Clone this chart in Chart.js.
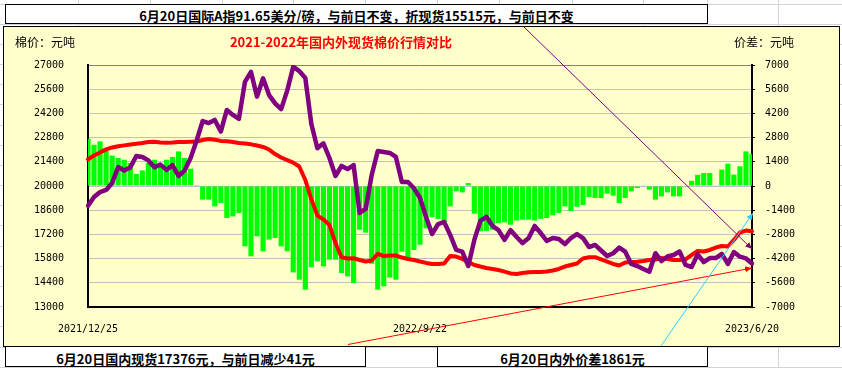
<!DOCTYPE html>
<html>
<head>
<meta charset="utf-8">
<script src="https://cdn.jsdelivr.net/npm/chart.js@4.4.0/dist/chart.umd.min.js"></script>
<style>
  html, body { margin: 0; padding: 0; }
  body { width: 842px; height: 368px; position: relative; overflow: hidden; background: #fff; }
  #sheet, #notes { position: absolute; left: 0; top: 0; }
  .box {
    position: absolute; box-sizing: border-box; background: #fff; border: 1px solid #000;
    font: bold 13px "Noto Sans CJK SC"; color: #000; text-align: center; line-height: 18px; white-space: nowrap;
  }
  #frame {
    position: absolute; left: 3px; top: 26px; width: 837px; height: 321px;
    box-sizing: border-box; border: 1px solid #000; background: #FFFFCC;
  }
  #chart { position: absolute; left: 0; top: 0; }
  .lbl { position: absolute; font: 12px "Noto Sans CJK SC"; color: #000; line-height: 16px; white-space: nowrap; }
  #title {
    position: absolute; left: 141px; top: 34px; width: 400px; text-align: center;
    font: bold 13px "Noto Sans CJK SC"; color: #ff0000; line-height: 16px;
  }
</style>
</head>
<body>
<svg id="sheet" width="842" height="368"></svg>

<div class="box" style="left:5px; top:4px; width:703px; height:20px; padding-top:2px;">6月20日国际A指91.65美分/磅，与前日不变，折现货15515元，与前日不变</div>

<div id="frame"><canvas id="chart" width="835" height="319"></canvas></div>
<div id="title">2021-2022年国内外现货棉价行情对比</div>
<div class="lbl" style="left:15px; top:34px;">棉价：元吨</div>
<div class="lbl" style="left:734px; top:34px;">价差：元吨</div>

<div class="box" style="left:5px; top:346px; width:361px; height:21px; padding-top:3px;">6月20日国内现货17376元，与前日减少41元</div>
<div class="box" style="left:437px; top:346px; width:271px; height:21px; padding-top:3px;">6月20日内外价差1861元</div>

<svg id="notes" width="842" height="368">
  <defs>
    <marker id="aP" markerWidth="7" markerHeight="6" refX="7" refY="3" orient="auto" markerUnits="userSpaceOnUse"><path d="M0,0 L7,3 L0,6 z" fill="#800080"/></marker>
    <marker id="aR" markerWidth="7" markerHeight="6" refX="7" refY="3" orient="auto" markerUnits="userSpaceOnUse"><path d="M0,0 L7,3 L0,6 z" fill="#ff0000"/></marker>
    <marker id="aC" markerWidth="7" markerHeight="6" refX="7" refY="3" orient="auto" markerUnits="userSpaceOnUse"><path d="M0,0 L7,3 L0,6 z" fill="#33ccff"/></marker>
  </defs>
  <line x1="524" y1="27" x2="752" y2="249" stroke="#800080" stroke-width="1" marker-end="url(#aP)"/>
  <line x1="348" y1="344.5" x2="752" y2="268" stroke="#ff0000" stroke-width="1" marker-end="url(#aR)"/>
  <line x1="661" y1="346" x2="753" y2="213" stroke="#33ccff" stroke-width="1" marker-end="url(#aC)"/>
</svg>

<script>
// 国内现货 (元/吨), left axis
const domestic = [
  21550, 21760, 21940, 22120, 22230, 22300, 22350, 22400, 22440, 22490,
  22550, 22560, 22520, 22500, 22520, 22550, 22550, 22560, 22570, 22660,
  22720, 22680, 22610, 22590, 22550, 22490, 22460, 22410, 22340, 22260,
  22110, 21850, 21650, 21500, 21350, 21130, 20350, 19230, 18290, 18060,
  17740, 16700, 15880, 15810, 15820, 15720, 15630, 15690, 16070, 15950,
  15980, 15980, 15860, 15780, 15720, 15630, 15550, 15490, 15490, 15520,
  15950, 15920, 15780, 15600, 15430, 15340, 15260, 15200, 15140, 15050,
  14940, 14910, 14970, 15010, 15020, 15020, 15050, 15110, 15200, 15340,
  15430, 15520, 15810, 15880, 15880, 15750, 15620, 15490, 15400, 15570,
  15600, 15620, 15660, 15720, 15750, 15830, 15780, 15720, 15720, 15760,
  16010, 16240, 16210, 16300, 16440, 16530, 16500, 16880, 17310, 17420,
  17376
];

// 国际A指折现货 (元/吨), left axis
const international = [
  18860, 19360, 19650, 19770, 20170, 21100, 20900, 21070, 21740, 21680,
  21480, 21080, 21240, 20930, 21210, 20580, 20900, 21620, 22630, 23760,
  23640, 23820, 23150, 24400, 24110, 23880, 26020, 26600, 25170, 26230,
  25260, 24780, 24450, 25520, 26900, 26650, 26250, 23590, 22180, 22470,
  21620, 20580, 21160, 20980, 21210, 18440, 18670, 20640, 22020, 21970,
  21910, 21680, 20230, 20230, 19870, 19310, 18210, 17220, 17800, 17920,
  17170, 16300, 16200, 15370, 16880, 17980, 18220, 17690, 17450, 16880,
  17450, 17050, 16700, 16990, 17690, 17280, 16820, 16990, 16930, 16640,
  16990, 17220, 16990, 16470, 16590, 16270, 15950, 16110, 16440, 16200,
  15490, 15370, 15200, 15040, 16110, 15660, 15920, 16010, 16210, 15430,
  15310, 16040, 15600, 15830, 15830, 16070, 15490, 16180, 15910, 15810,
  15515
];

// 内外价差 (元/吨), right axis
const spread = [
  2720, 2390, 2580, 2200, 1760, 1620, 1520, 1330, 700, 900,
  1330, 1520, 1230, 1520, 1680, 2000, 1620, 1000, 50, -790,
  -790, -1180, -980, -1850, -1760, -1560, -3490, -4070, -2910, -3780,
  -3100, -3010, -3490, -3780, -5000, -5420, -6000, -4700, -4360, -4650,
  -4260, -4260, -5030, -5230, -5610, -2530, -2700, -4500, -6000, -5800,
  -5300, -5420, -3800, -4170, -3700, -3400, -2450, -1790, -1900, -2100,
  -1180, -310, -370, 170, -1600, -2620, -2600, -2530, -2140, -2100,
  -2240, -2000, -1950, -1950, -2000, -1900, -1850, -1700, -1560, -1180,
  -1450, -1200, -1100, -640, -690, -700, -440, -560, -980, -690,
  -310, -120, 20, -210, -790, -600, -370, -600, -600, -20,
  300, 650, 750, 750, 20, 950, 1290, 660, 1140, 2000,
  1861
];

const categories = domestic.map((v, i) => String(i));
const tickIndex = [0, 55, 110];
const tickLabels = ['2021/12/25', '2022/9/22', '2023/6/20'];

// spreadsheet cell lines behind everything
const sheet = document.getElementById('sheet');
const cols = [78, 150, 222, 293, 365, 437, 499, 572, 643, 707, 778];
let lines = '';
cols.forEach(x => { lines += `<line x1="${x + 0.5}" y1="0" x2="${x + 0.5}" y2="368" stroke="#d4d4d4"/>`; });
for (let y = 3.5; y < 368; y += 20.18) {
  lines += `<line x1="0" y1="${Math.round(y) + 0.5}" x2="842" y2="${Math.round(y) + 0.5}" stroke="#d4d4d4"/>`;
}
sheet.innerHTML = lines;

const tickFont = { family: 'DejaVu Sans Mono', size: 10 };

new Chart(document.getElementById('chart'), {
  type: 'bar',
  data: {
    labels: categories,
    datasets: [
      {
        type: 'line', label: '国际', data: international, yAxisID: 'y',
        borderColor: '#800080', borderWidth: 4.5, pointRadius: 0, tension: 0,
        borderJoinStyle: 'round', borderCapStyle: 'round', order: 0
      },
      {
        type: 'line', label: '国内', data: domestic, yAxisID: 'y',
        borderColor: '#ff0000', borderWidth: 4, pointRadius: 0, tension: 0,
        borderJoinStyle: 'round', borderCapStyle: 'round', order: 1
      },
      {
        type: 'bar', label: '价差', data: spread, yAxisID: 'y1',
        backgroundColor: '#00ff00', barPercentage: 0.85, categoryPercentage: 1, order: 2
      }
    ]
  },
  options: {
    responsive: false,
    animation: false,
    layout: { padding: { top: 38, left: 0, right: 0, bottom: 0 } },
    plugins: { legend: { display: false }, tooltip: { enabled: false } },
    scales: {
      x: {
        offset: false,
        grid: { display: false },
        border: { color: '#000', width: 2 },
        ticks: {
          autoSkip: false, maxRotation: 0, minRotation: 0, padding: 8,
          color: '#000', font: tickFont,
          callback: (v, i) => {
            const k = tickIndex.indexOf(i);
            return k < 0 ? '' : tickLabels[k];
          }
        },
        afterFit: s => { s.height = 39; }
      },
      y: {
        position: 'left', min: 13000, max: 27000,
        grid: { display: false },
        border: { color: '#000', width: 2 },
        ticks: { stepSize: 1400, padding: 16, color: '#000', font: tickFont, callback: v => String(v) },
        afterFit: s => { s.width = 84; }
      },
      y1: {
        position: 'right', min: -7000, max: 7000,
        grid: {
          color: ctx => ctx.index === 10 ? '#808080' : '#c0c0c0',
          lineWidth: 1, tickLength: 3, tickColor: '#000'
        },
        border: { color: '#000', width: 2 },
        ticks: { stepSize: 1400, padding: 10, color: '#000', font: tickFont, callback: v => String(v) },
        afterFit: s => { s.width = 87; }
      }
    }
  }
});
</script>
</body>
</html>
